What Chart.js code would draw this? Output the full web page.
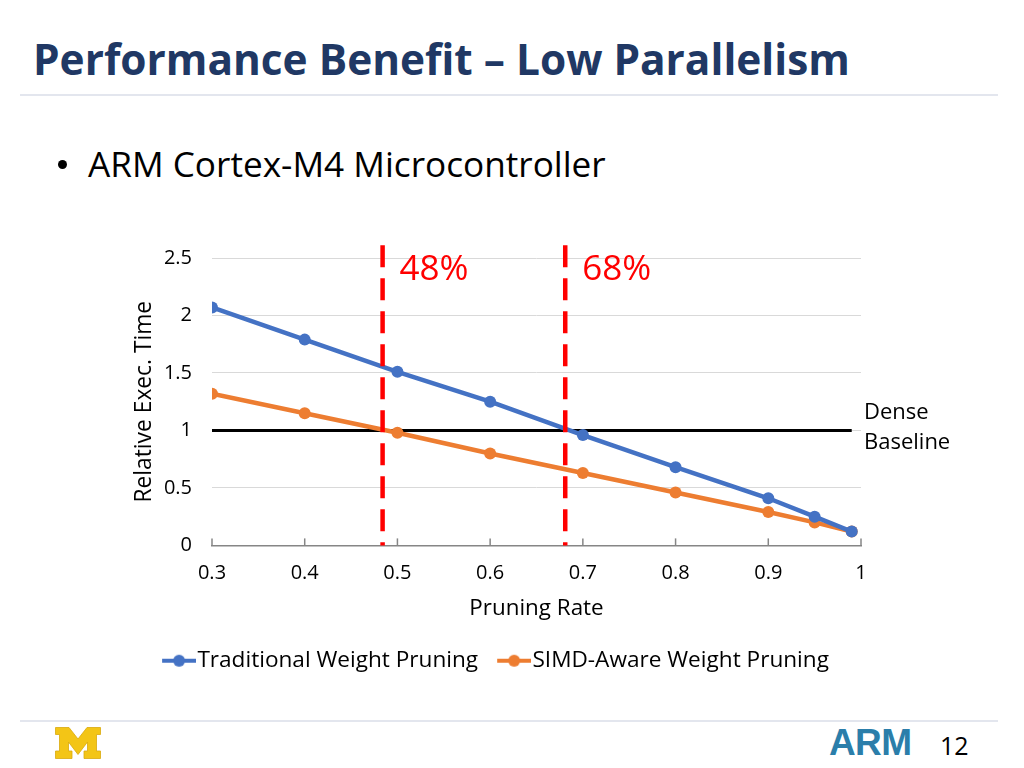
<!DOCTYPE html>
<html>
<head>
<meta charset="utf-8">
<script src="https://cdn.jsdelivr.net/npm/chart.js@4.4.1/dist/chart.umd.min.js"></script>
<style>
  html, body { margin: 0; padding: 0; background: #fff; }
  body { width: 1024px; height: 768px; position: relative; overflow: hidden; font-family: "Open Sans", sans-serif; }
  .title { position: absolute; left: 33px; top: 38px; font-size: 46px; line-height: 1; font-weight: 700; color: #203864; white-space: nowrap; }
  .rule { position: absolute; left: 20px; width: 978px; height: 2px; background: #e3e6ee; }
  .dot { position: absolute; left: 58px; top: 160px; width: 9px; height: 9px; border-radius: 50%; background: #000; }
  .bullet { position: absolute; left: 88px; top: 146px; font-size: 35px; line-height: 1; color: #000; white-space: nowrap; }
  .arm { position: absolute; left: 829px; top: 722px; font: 700 37px "Liberation Sans", Arial, sans-serif; color: #2b7eaa; letter-spacing: -0.6px; }
  .page { position: absolute; left: 940px; top: 733px; font-size: 25px; line-height: 1; color: #000; }
  #wrap { position: absolute; left: 0; top: 200px; width: 1024px; height: 482px; }
</style>
</head>
<body>
<div class="title" id="title">Performance Benefit – Low Parallelism</div>
<div class="rule" style="top:94px"></div>
<div class="dot"></div>
<div class="bullet" id="bullet">ARM Cortex-M4 Microcontroller</div>
<div id="wrap"><canvas id="chart"></canvas></div>
<div class="rule" style="top:720px"></div>
<svg style="position:absolute;left:55px;top:727px" width="46" height="32" viewBox="0 0 46 32">
  <polygon points="0.5,0.5 14,0.5 23,12 32,0.5 45.5,0.5 45.5,7.5 41.5,7.5 41.5,24 45.5,24 45.5,31.5 29,31.5 29,24 32.5,24 32.5,15 23,27.5 13.5,15 13.5,24 17,24 17,31.5 0.5,31.5 0.5,24 4.5,24 4.5,7.5 0.5,7.5"
    fill="#f3c516" stroke="#d9a90d" stroke-width="0.8"/>
</svg>
<div class="arm">ARM</div>
<div class="page">12</div>

<script>
// chart values
const pruningRate = [0.3, 0.4, 0.5, 0.6, 0.7, 0.8, 0.9, 0.95, 0.99];
const traditional = [2.07, 1.79, 1.51, 1.25, 0.96, 0.68, 0.41, 0.25, 0.12];
const simdAware   = [1.32, 1.15, 0.98, 0.80, 0.63, 0.46, 0.29, 0.20, 0.12];
const xTicks = [0.3, 0.4, 0.5, 0.6, 0.7, 0.8, 0.9, 1];
const yTicks = [0, 0.5, 1, 1.5, 2, 2.5];
const breakEven = [0.484, 0.681];
const breakEvenLabels = ['48%', '68%'];
const baselineValue = 1;

const FONT = '"Open Sans", sans-serif';
const BLUE = '#4472c4';
const ORANGE = '#ed7d31';

// stretch slide text to the widths it has in the original deck
function fitWidth(el, target) {
    const w = el.getBoundingClientRect().width;
    const size = parseFloat(getComputedStyle(el).fontSize);
    el.style.fontSize = (size * target / w).toFixed(2) + 'px';
}
fitWidth(document.getElementById('title'), 817);
fitWidth(document.getElementById('bullet'), 518);

// line+dot legend marker; left 10px kept empty so the marker starts at the item's x
function legendMarker(color) {
    const c = document.createElement('canvas');
    c.width = 44; c.height = 14;
    const g = c.getContext('2d');
    g.strokeStyle = color; g.lineWidth = 4;
    g.beginPath(); g.moveTo(10, 7); g.lineTo(44, 7); g.stroke();
    g.fillStyle = color;
    g.beginPath(); g.arc(27, 7, 6, 0, Math.PI * 2); g.fill();
    return c;
}
const markers = [legendMarker(BLUE), legendMarker(ORANGE)];

const overlays = {
    id: 'overlays',
    beforeDatasetsDraw(chart) {
        const { ctx, scales: { x, y } } = chart;
        ctx.save();
        // dense baseline
        ctx.strokeStyle = '#000';
        ctx.lineWidth = 3;
        ctx.beginPath();
        ctx.moveTo(x.getPixelForValue(pruningRate[0]), y.getPixelForValue(baselineValue));
        ctx.lineTo(x.getPixelForValue(pruningRate[pruningRate.length - 1]), y.getPixelForValue(baselineValue));
        ctx.stroke();
        // inward tick marks on the x axis
        ctx.strokeStyle = '#868686';
        ctx.lineWidth = 1.5;
        const yb = y.getPixelForValue(0);
        xTicks.forEach(v => {
            const px = x.getPixelForValue(v);
            ctx.beginPath(); ctx.moveTo(px, yb); ctx.lineTo(px, yb - 7); ctx.stroke();
        });
        ctx.restore();
    },
    afterDatasetsDraw(chart) {
        const { ctx, chartArea, scales: { x, y } } = chart;
        ctx.save();
        ctx.strokeStyle = '#ff0000';
        ctx.lineWidth = 4.5;
        ctx.setLineDash([22, 11]);
        ctx.fillStyle = '#ff0000';
        ctx.font = '35px ' + FONT;
        ctx.textBaseline = 'alphabetic';
        breakEven.forEach((v, i) => {
            const px = x.getPixelForValue(v);
            ctx.beginPath();
            ctx.moveTo(px, y.getPixelForValue(2.61));
            ctx.lineTo(px, y.getPixelForValue(0));
            ctx.stroke();
            ctx.fillText(breakEvenLabels[i], px + 17, y.getPixelForValue(2.31));
        });
        ctx.setLineDash([]);
        ctx.fillStyle = '#000';
        ctx.font = '22px ' + FONT;
        ctx.textBaseline = 'middle';
        const yb = y.getPixelForValue(baselineValue);
        ctx.fillText('Dense', chartArea.right + 3, yb - 18);
        ctx.fillText('Baseline', chartArea.right + 3, yb + 12);
        ctx.restore();
    },
};

new Chart(document.getElementById('chart'), {
    type: 'line',
    data: {
        datasets: [
            {
                label: 'Traditional Weight Pruning',
                data: pruningRate.map((r, i) => ({ x: r, y: traditional[i] })),
                borderColor: BLUE,
                backgroundColor: BLUE,
                borderWidth: 4.5,
                pointRadius: 6,
                pointHoverRadius: 6,
                pointBorderWidth: 0,
            },
            {
                label: 'SIMD-Aware Weight Pruning',
                data: pruningRate.map((r, i) => ({ x: r, y: simdAware[i] })),
                borderColor: ORANGE,
                backgroundColor: ORANGE,
                borderWidth: 4.5,
                pointRadius: 6,
                pointHoverRadius: 6,
                pointBorderWidth: 0,
            },
        ],
    },
    options: {
        responsive: true,
        maintainAspectRatio: false,
        animation: false,
        layout: { padding: { top: 58, left: 130, right: 163, bottom: 0 } },
        plugins: {
            tooltip: { enabled: false },
            legend: {
                position: 'bottom',
                labels: {
                    color: '#000',
                    font: { family: FONT, size: 22.6 },
                    usePointStyle: true,
                    pointStyleWidth: 24,
                    padding: 19,
                    generateLabels: chart =>
                        Chart.defaults.plugins.legend.labels.generateLabels(chart)
                            .map((l, i) => ({ ...l, pointStyle: markers[i] })),
                },
            },
        },
        scales: {
            x: {
                type: 'linear',
                min: 0.3,
                max: 1,
                afterBuildTicks: s => { s.ticks = xTicks.map(v => ({ value: v })); },
                afterFit: s => { s.height = 85; },
                grid: { display: false, drawTicks: false },
                border: { display: true, color: '#868686', width: 1.5 },
                ticks: {
                    color: '#000',
                    font: { family: FONT, size: 20 },
                    padding: 16,
                    callback: v => String(Number(v.toFixed(2))),
                },
                title: {
                    display: true,
                    text: 'Pruning Rate',
                    color: '#000',
                    font: { family: FONT, size: 22.4 },
                    padding: { top: 4, bottom: 8 },
                },
            },
            y: {
                min: 0,
                max: 2.5,
                afterBuildTicks: s => { s.ticks = yTicks.map(v => ({ value: v })); },
                afterFit: s => { s.width = 82; },
                grid: { color: '#d9d9d9', lineWidth: 1, drawTicks: false },
                border: { display: false },
                ticks: {
                    color: '#000',
                    font: { family: FONT, size: 20 },
                    padding: 20,
                    callback: v => String(v),
                },
                title: {
                    display: true,
                    text: 'Relative Exec. Time',
                    color: '#000',
                    font: { family: FONT, size: 22.8 },
                    padding: { top: 1, bottom: 0 },
                },
            },
        },
    },
    plugins: [overlays],
});
</script>
</body>
</html>
